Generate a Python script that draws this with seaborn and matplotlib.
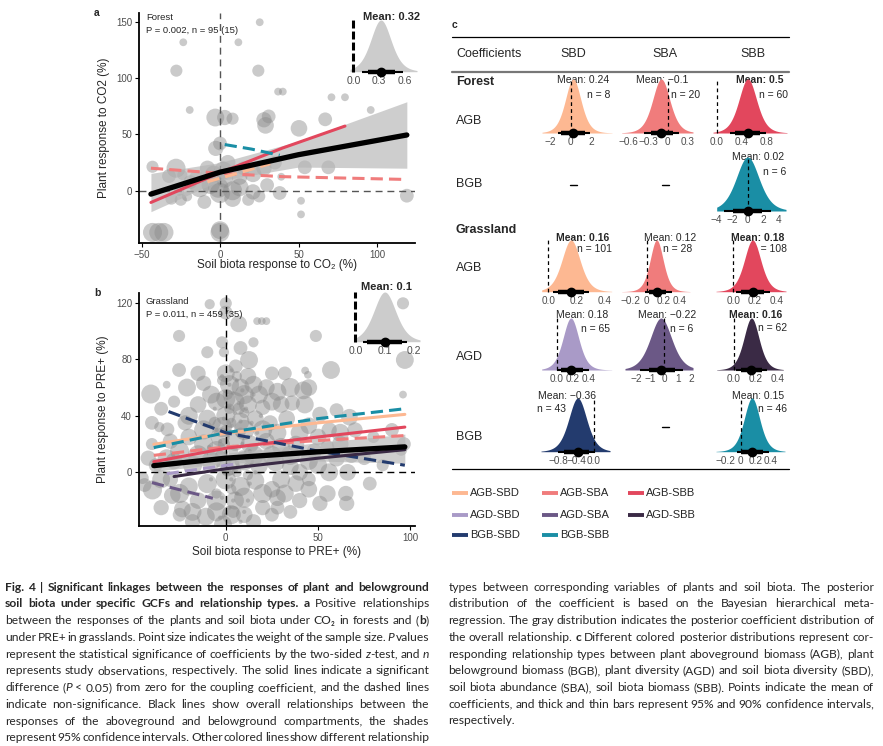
import re
import numpy as np
import matplotlib
matplotlib.use('Agg')
import matplotlib.pyplot as plt
import seaborn as sns

sns.set_style('white')
plt.rcParams['font.family'] = ['Liberation Sans', 'DejaVu Sans']
plt.rcParams['axes.unicode_minus'] = True

W, H = 883, 746

# relationship types and colours
rel_names = ['AGB-SBD', 'AGB-SBA', 'AGB-SBB', 'AGD-SBD', 'AGD-SBA', 'AGD-SBB', 'BGB-SBD', 'BGB-SBB']
rel_colors = ['#fdb892', '#f07c7c', '#e2475d', '#a99ac7', '#6b5886', '#3a2a45', '#233b6e', '#1a8ea5']
col = dict(zip(rel_names, rel_colors))

# ---------------- panel a: forest, CO2 ----------------
a_x = [25.3, -23.4, 11.7, -27.8, 24.4, -19.3, -3, 3, 8, 31, 29, 28, -2.7, 0, -43, -28, -32.5, -24,
       -19, -13, -1, 0, -6, 3, 8, 12.5, 21, 12.5, 21, 8, -21, -31, -26, -43, -39, -35.7, 0, 0,
       37, 40, 71, 79.6, 96, 67, 50.3, 54, 69, 39, 119, 51.6, 51.6, 35, 28, 15, -8, -15, 5, 18,
       25, -10, -4, 2, 30, -25, 38]
a_y = [149.6, 131.8, 131.8, 106.6, 106.6, 71.7, 65, 65, 64, 66, 58, 63, 37.6, 42, 21.3, 20, 13, 14,
       7.6, 2.7, 2.7, -2, 5, 10, 0, 12, 15, 3, -1, -7, -5, -7, 0, -37, -37, -37, -37, -35,
       88, 88, 83, 83, 71.7, 63.4, 55.4, 20.8, 20.8, 12.4, -4.4, -8.9, -21, 25, 20, 20, 20, 12, 25, -8,
       -5, -10, 15, 18, 5, -8, -2]
a_w = [2, 2, 2, 4, 4, 2, 8, 6, 4, 5, 7, 6, 6, 5, 4, 9, 5, 3,
       5, 9, 10, 10, 8, 7, 9, 6, 7, 8, 6, 7, 3, 4, 3, 9, 9, 9, 9, 8,
       2, 2, 2, 2, 2, 5, 7, 5, 5, 2, 5, 2, 2, 5, 6, 5, 6, 5, 6, 4,
       4, 5, 7, 8, 5, 4, 5]

a_fit_x = [-44, 0, 50, 119]
a_fit_y = [-3, 16.5, 32, 49.5]
a_ci_lo = [-18.6, 9, 21, 20]
a_ci_hi = [15.4, 25, 44, 79]
a_lines = {
    'AGB-SBB': ([-44, 0, 40, 79.6], [-10.4, 16, 38, 57.4], False),
    'AGB-SBA': ([-44, 0, 40, 119], [20, 15.5, 12.5, 10], True),
    'AGB-SBD': ([-8, 10, 32], [8, 15, 24], True),
    'BGB-SBB': ([3, 20, 38], [41, 37, 31.5], True),
}

# ---------------- panel b: grassland, PRE+ ----------------
b_pts = [
    (-8.7, 119, 3), (0, 119.6, 4), (0, 113, 5), (7, 105, 7), (17, 107, 2), (19.5, 107, 2), (22, 107, 2),
    (-25.3, 96.5, 4), (-2, 92, 4), (48.8, 96.5, 4), (-1, 85, 3), (-25.3, 72.4, 5), (12.6, 79.5, 8),
    (5.4, 75, 5), (57, 72.4, 8), (43, 72, 2), (44.5, 69, 2), (96, 119.6, 4), (97, 79.5, 8), (96, 55, 2),
    (-40.6, 55.4, 9), (-32, 62, 2), (-21, 60, 8), (-12, 63, 6), (2, 62, 9), (8, 60, 8), (15, 62, 8),
    (22, 60, 7), (28, 57, 8), (35, 60, 9), (42, 58, 8), (45, 60, 7), (-28, 50, 4), (-15, 48, 7),
    (-5, 50, 8), (5, 50, 9), (12, 48, 8), (20, 46, 6), (30, 48, 7), (36, 49, 6), (42.8, 48, 8),
    (51, 41, 6), (60, 44, 5), (67, 39, 7), (-31.6, 30.4, 5), (-36, 32, 3), (-22, 35, 6), (-10, 38, 8),
    (0, 40, 9), (8, 36, 8), (16, 38, 7), (24, 35, 6), (33, 38, 7), (45, 33, 7), (56, 30, 6), (62, 28, 8),
    (70, 30, 6), (68, 12, 6), (96.5, 20, 5), (95, 16, 4), (-40, 20, 4), (-30, 22, 6), (-20, 25, 7),
    (-12, 20, 9), (-3, 25, 9), (5, 22, 9), (13, 20, 8), (22, 22, 7), (30, 18, 8), (38, 20, 7), (48, 15, 6),
    (55, 18, 5), (-38, 5, 5), (-28, 8, 7), (-18, 5, 9), (-8, 8, 9), (2, 5, 10), (10, 8, 9), (18, 5, 8),
    (27, 7, 8), (35, 4, 7), (40, 0, 7), (50, 5, 8), (56, 0, 8), (66, 0, 7), (-39.7, -12.5, 9),
    (-29, -16.5, 7), (-23.5, -26, 7), (-30, -5, 6), (-20, -10, 8), (-10, -8, 9), (0, -5, 10), (8, -10, 9),
    (16, -6, 8), (25, -12, 7), (32, -15, 8), (55, -15, 7), (65, -15, 6), (-10.8, -31.4, 8), (-1.5, -37, 8),
    (10, -30, 7), (20, -25, 6), (-15, -20, 7), (5, -20, 8), (28, -25, 5), (51, -22, 6), (65.5, -22, 6),
    (45, -5, 5), (-45, -4, 4), (-44, -9, 5), (0, 30, 3), (2, 45, 3), (4, 15, 3), (6, 0, 3), (3, -12, 3),
    (1, 55, 3), (8, 28, 3), (-3, 12, 3), (-5, -15, 3), (10, 42, 3), (12, -2, 3), (-2, 65, 3), (6, 68, 3),
    (3, 35, 3), (9, 12, 3), (-1, 20, 4), (4, -28, 4), (1, 2, 5), (7, 45, 4), (-6, 35, 4),
    # bulk of the cloud
    (-35, -25, 6), (-25, -30, 5), (-18, -35, 6), (-5, -28, 9), (15, -35, 6), (25, -30, 5), (35, -28, 5),
    (40, -20, 6), (45, -12, 7), (30, -5, 8), (20, -15, 9), (10, -18, 10), (-5, -20, 10), (-25, -15, 9),
    (-35, -5, 8), (-32, 10, 8), (-25, 15, 9), (-15, 12, 10), (-5, 15, 10), (15, 12, 10), (25, 12, 9),
    (35, 12, 9), (45, 8, 8), (60, 10, 7), (62, 20, 7), (75, 10, 5), (80, 25, 4), (85, 5, 4), (90, 30, 5),
    (78, -8, 5), (-20, 40, 8), (-12, 30, 9), (-2, 32, 10), (10, 30, 10), (20, 30, 9), (28, 28, 8),
    (40, 28, 8), (50, 25, 7), (-8, 55, 8), (0, 52, 9), (10, 55, 9), (18, 55, 8), (25, 50, 8), (-15, 70, 6),
    (0, 70, 8), (12, 68, 7), (25, 70, 5), (32, 70, 5), (-35, 45, 5), (-40, 35, 5), (-42, 10, 6),
    (-10, 85, 4), (8, 88, 5), (15, 92, 3), (-18, -28, 8), (3, -30, 9), (28, -18, 7), (38, -8, 7),
    # fine speckle near zero
    (0, -30, 1), (2, -25, 1), (4, -20, 1), (-2, -18, 1), (6, -15, 1), (1, -10, 1), (3, -5, 1), (-1, 0, 1),
    (5, 3, 1), (2, 8, 1), (7, 10, 1), (0, 14, 1), (4, 18, 1), (9, 20, 1), (-3, 22, 1), (1, 26, 1),
    (6, 29, 1), (3, 33, 1), (8, 36, 1), (-1, 38, 1), (5, 42, 1), (2, 46, 1), (7, 49, 1), (0, 52, 1),
    (4, 56, 1), (9, 58, 1), (2, 62, 1), (6, 65, 1), (-2, 68, 1), (3, 72, 1), (11, 5, 1), (13, 15, 1),
    (12, 25, 1), (14, 35, 1), (11, 45, 1), (13, -8, 1), (12, -20, 1), (-4, 5, 1), (-5, 30, 1), (-6, 45, 1),
    (16, 0, 1), (18, 12, 1), (17, 28, 1), (19, 40, 1), (-8, -5, 1), (-9, 18, 1), (15, 55, 1), (10, -28, 1),
    (-3, -32, 1), (8, -35, 1),
]
b_x = [p[0] for p in b_pts]
b_y = [p[1] for p in b_pts]
b_w = [p[2] for p in b_pts]

b_fit_x = [-39, 0, 50, 97]
b_fit_y = [4.7, 10, 14.5, 18]
b_ci_lo = [0.5, 6.5, 8, 6.4]
b_ci_hi = [9.5, 13.5, 21, 27]
b_lines = {
    'AGB-SBD': ([-39, 0, 50, 97], [19.8, 27.6, 35, 41], False),
    'BGB-SBB': ([-39, 0, 50, 97], [17.5, 28, 38, 45], True),
    'AGB-SBA': ([-39, 0, 50, 97], [12, 18, 22.5, 26], True),
    'AGB-SBB': ([-39, 0, 50, 97], [7.5, 17, 25, 32], False),
    'BGB-SBD': ([-31, 0, 50, 97], [43, 28, 15, 5], True),
    'AGD-SBB': ([-28, 0, 50, 97], [-3, 2.5, 10, 16], False),
    'AGD-SBD': ([-32, 6], [-1, 6], True),
    'AGD-SBA': ([-40, -7], [-7.3, -18.4], True),
}

# overall posteriors (insets)
ins_mean = [0.32, 0.1]
ins_thick = [(0.17, 0.48), (0.04, 0.16)]
ins_thin = [(0.1, 0.58), (0.025, 0.177)]

# ---------------- panel c: posterior coefficients ----------------
post_rel = ['AGB-SBD', 'AGB-SBA', 'AGB-SBB', 'BGB-SBB', 'AGB-SBD', 'AGB-SBA', 'AGB-SBB',
            'AGD-SBD', 'AGD-SBA', 'AGD-SBB', 'BGB-SBD', 'BGB-SBB']
post_mean = [0.24, -0.1, 0.5, 0.02, 0.16, 0.12, 0.18, 0.18, -0.22, 0.16, -0.36, 0.15]
post_label = ['0.24', '\u22120.1', '0.5', '0.02', '0.16', '0.12', '0.18', '0.18', '\u22120.22', '0.16',
              '\u22120.36', '0.15']
post_n = [8, 20, 60, 6, 101, 28, 108, 65, 6, 62, 43, 46]
post_sig = [False, False, True, False, True, False, True, False, False, True, False, False]
post_thick = [(-0.9, 1.4), (-0.26, 0.08), (0.3, 0.7), (-1.9, 1.9), (0.07, 0.25), (0.03, 0.23),
              (0.07, 0.29), (0.06, 0.33), (-1.1, 0.8), (0.06, 0.26), (-0.66, -0.1), (0.0, 0.3)]
post_thin = [(-1.2, 1.9), (-0.36, 0.18), (0.22, 0.8), (-3.0, 3.0), (0.03, 0.29), (-0.02, 0.30),
             (0.03, 0.34), (0.0, 0.4), (-1.75, 1.4), (0.02, 0.3), (-0.79, 0.02), (-0.05, 0.37)]
post_ticks = [[-2, 0, 2], [-0.6, -0.3, 0, 0.3], [0, 0.4, 0.8], [-4, -2, 0, 2, 4], [0, 0.2, 0.4],
              [-0.2, 0, 0.2, 0.4], [0, 0.2, 0.4], [0, 0.2, 0.4], [-2, -1, 0, 1, 2], [0, 0.2, 0.4],
              [-0.8, -0.4, 0], [-0.2, 0, 0.2, 0.4]]
post_ticklabels = [['\u22122', '0', '2'], ['\u22120.6', '\u22120.3', '0', '0.3'], ['0.0', '0.4', '0.8'],
                   ['\u22124', '\u22122', '0', '2', '4'], ['0.0', '0.2', '0.4'],
                   ['\u22120.2', '0', '0.2', '0.4'], ['0.0', '0.2', '0.4'], ['0.0', '0.2', '0.4'],
                   ['\u22122', '\u22121', '0', '1', '2'], ['0.0', '0.2', '0.4'],
                   ['\u22120.8', '\u22120.4', '0.0'], ['\u22120.2', '0', '0.2', '0.4']]

# layout of the cells (pixels)
cell_box = [(542, 612), (621.7, 693), (713, 787), (716.7, 786), (541.7, 611.7), (621.7, 690),
            (716, 786), (541.7, 611.7), (625, 693), (716.7, 783.3), (541, 610), (716, 785)]
cell_base = [133, 133, 133, 211, 291.7, 291.7, 291.7, 370, 370, 370, 451.7, 451.7]
cell_peak = [79, 79, 79, 157, 240, 240, 240, 318, 318, 318, 398, 398]
cell_xlim = [(-2.8, 4.03), (-0.71, 0.39), (-0.06, 1.13), (-4.0, 5.0), (-0.047, 0.447), (-0.3, 0.52),
             (-0.16, 0.49), (-0.185, 0.69), (-2.84, 2.11), (-0.157, 0.45), (-1.18, 0.36), (-0.33, 0.59)]
cell_mean_xy = [(583, 80), (662, 80), (760, 80), (758, 157), (583, 238), (670, 238), (758, 238),
                (581.7, 315), (666.7, 315), (756, 315), (566.7, 396), (758, 396)]
cell_n_xy = [(610, 95, 'right'), (700, 95, 'right'), (788, 95, 'right'), (786, 172, 'right'),
             (611.7, 249, 'right'), (692, 249, 'right'), (787, 249, 'right'), (610, 329, 'right'),
             (693, 329, 'right'), (787, 328, 'right'), (536.7, 409, 'left'), (786.7, 409, 'right')]

caption_left = [
    "**Fig. 4 | Significant linkages between the responses of plant and belowground**",
    "**soil biota under specific GCFs and relationship types. a** Positive relationships",
    "between the responses of the plants and soil biota under CO\u2082 in forests and (**b**)",
    "under PRE+ in grasslands. Point size indicates the weight of the sample size. _P_ values",
    "represent the statistical significance of coefficients by the two-sided _z_-test, and _n_",
    "represents study observations, respectively. The solid lines indicate a significant",
    "difference (_P_ < 0.05) from zero for the coupling coefficient, and the dashed lines",
    "indicate non-significance. Black lines show overall relationships between the",
    "responses of the aboveground and belowground compartments, the shades",
    "represent 95% confidence intervals. Other colored lines show different relationship",
]
caption_right = [
    "types between corresponding variables of plants and soil biota. The posterior",
    "distribution of the coefficient is based on the Bayesian hierarchical meta-",
    "regression. The gray distribution indicates the posterior coefficient distribution of",
    "the overall relationship. **c** Different colored posterior distributions represent cor-",
    "responding relationship types between plant aboveground biomass (AGB), plant",
    "belowground biomass (BGB), plant diversity (AGD) and soil biota diversity (SBD),",
    "soil biota abundance (SBA), soil biota biomass (SBB). Points indicate the mean of",
    "coefficients, and thick and thin bars represent 95% and 90% confidence intervals,",
    "respectively.",
]

TICK_GRAY = '#4d4d4d'

fig = plt.figure(figsize=(W / 100, H / 100), dpi=100)


def px_axes(l, t, r, b):
    ax = fig.add_axes([l / W, 1 - b / H, (r - l) / W, (b - t) / H])
    ax.set_facecolor('none')
    return ax


ov = px_axes(0, 0, W, H)
ov.set_xlim(0, W)
ov.set_ylim(H, 0)
ov.axis('off')


def scatter_panel(ax, xs, ys, ws, fit_x, fit_y, lo, hi, lines, zero_color):
    sns.scatterplot(x=xs, y=ys, size=ws, sizes=(9, 210), size_norm=(1, 10), color='#8a8a8a',
                    alpha=0.45, linewidth=0, legend=False, ax=ax)
    ax.axhline(0, color=zero_color, lw=1.0, ls=(0, (5, 3.5)), zorder=2)
    ax.axvline(0, color=zero_color, lw=1.0, ls=(0, (5, 3.5)), zorder=2)
    ax.fill_between(fit_x, lo, hi, color='#b5b5b5', alpha=0.65, lw=0, zorder=3)
    for rel, (lx, ly, dashed) in lines.items():
        sns.lineplot(x=lx, y=ly, color=col[rel], linewidth=2.2, estimator=None, sort=False,
                     linestyle=(0, (4, 2)) if dashed else '-', ax=ax, legend=False, zorder=4)
    sns.lineplot(x=fit_x, y=fit_y, color='black', linewidth=3.8, estimator=None, sort=False,
                 ax=ax, legend=False, zorder=5)
    for s in ['top', 'right']:
        ax.spines[s].set_visible(False)
    for s in ['left', 'bottom']:
        ax.spines[s].set_linewidth(1.3)
        ax.spines[s].set_color('black')
    ax.tick_params(axis='both', length=3, width=0.8, color='black', labelsize=7, labelcolor=TICK_GRAY,
                   pad=2, direction='out', bottom=True, left=True)


def posterior(ax, mean, thick, thin, xlim, color, zero_lw, zero_ls):
    grid = np.linspace(xlim[0], xlim[1], 400)
    s = (thin[1] - thin[0]) / (2 * 1.943)
    dens = (1 + ((grid - mean) / s) ** 2 / 6) ** (-3.5)
    ax.fill_between(grid, 0, dens, color=color, lw=0, zorder=1)
    ax.plot([0, 0], [0, 1], color='black', lw=zero_lw, ls=zero_ls, zorder=2, clip_on=False)
    ax.plot(thin, [0, 0], color='black', lw=1.5, solid_capstyle='butt', zorder=3, clip_on=False)
    ax.plot(thick, [0, 0], color='black', lw=3.2, solid_capstyle='butt', zorder=3, clip_on=False)
    ax.plot([mean], [0], 'o', color='black', ms=6, zorder=4, clip_on=False)
    ax.set_xlim(xlim)
    ax.set_ylim(0, 1.0)
    ax.set_yticks([])
    for s_ in ax.spines.values():
        s_.set_visible(False)
    ax.tick_params(axis='x', length=0, pad=3, labelsize=7.2, labelcolor=TICK_GRAY)


# ---- panel a ----
ax_a = px_axes(139, 13, 415, 243)
scatter_panel(ax_a, a_x, a_y, a_w, a_fit_x, a_fit_y, a_ci_lo, a_ci_hi, a_lines, '#555555')
ax_a.set_xlim(-51.6, 124.2)
ax_a.set_ylim(-46.4, 157.8)
ax_a.set_xticks([-50, 0, 50, 100])
ax_a.set_yticks([0, 50, 100, 150])
ax_a.set_xlabel('Soil biota response to CO\u2082 (%)', fontsize=8.5)
ax_a.set_ylabel('Plant response to CO2 (%)', fontsize=8.5)
ax_a.xaxis.set_label_coords(0.5, -0.096)
ax_a.xaxis.label.set_va('center')
ax_a.yaxis.set_label_coords(-0.127, 0.5)
ax_a.yaxis.label.set_va('center')
ax_a.text(0.025, 0.982, 'Forest', transform=ax_a.transAxes, fontsize=6.8, va='center')
ax_a.text(0.025, 0.925, 'P = 0.002, n = 95 (15)', transform=ax_a.transAxes, fontsize=6.8, va='center')

ins_a = px_axes(350, 20, 417, 71.7)
posterior(ins_a, ins_mean[0], ins_thick[0], ins_thin[0], (-0.04, 0.74), '#cccccc', 2.2, (0, (2.6, 1.0)))
ins_a.set_xticks([0, 0.3, 0.6])
ins_a.set_xticklabels(['0.0', '0.3', '0.6'])
ins_a.tick_params(labelsize=7.5)

# ---- panel b ----
ax_b = px_axes(139, 293, 415, 526)
scatter_panel(ax_b, b_x, b_y, b_w, b_fit_x, b_fit_y, b_ci_lo, b_ci_hi, b_lines, 'black')
ax_b.set_xlim(-47, 102.5)
ax_b.set_ylim(-38, 126.9)
ax_b.set_xticks([0, 50, 100])
ax_b.set_yticks([0, 40, 80, 120])
ax_b.set_xlabel('Soil biota response to PRE+ (%)', fontsize=8.5)
ax_b.set_ylabel('Plant response to PRE+ (%)', fontsize=8.5)
ax_b.xaxis.set_label_coords(0.5, -0.11)
ax_b.xaxis.label.set_va('center')
ax_b.yaxis.set_label_coords(-0.13, 0.5)
ax_b.yaxis.label.set_va('center')
ax_b.text(0.025, 0.962, 'Grassland', transform=ax_b.transAxes, fontsize=6.8, va='center')
ax_b.text(0.025, 0.906, 'P = 0.011, n = 459 (35)', transform=ax_b.transAxes, fontsize=6.8, va='center')

ins_b = px_axes(354, 292, 420, 341.7)
posterior(ins_b, ins_mean[1], ins_thick[1], ins_thin[1], (-0.005, 0.22), '#cccccc', 2.2, (0, (2.6, 1.0)))
ins_b.set_xticks([0, 0.1, 0.2])
ins_b.set_xticklabels(['0.0', '0.1', '0.2'])
ins_b.tick_params(labelsize=7.5)

ov.text(391.7, 16.7, 'Mean: 0.32', fontsize=8, fontweight='bold', ha='center', va='center')
ov.text(386.7, 287.5, 'Mean: 0.1', fontsize=8, fontweight='bold', ha='center', va='center')
ov.text(97, 13, 'a', fontsize=7.5, fontweight='bold', ha='center', va='center')
ov.text(97, 293, 'b', fontsize=7.5, fontweight='bold', ha='center', va='center')
ov.text(455, 25, 'c', fontsize=7.5, fontweight='bold', ha='center', va='center')

# ---- panel c table ----
ov.plot([451.7, 789], [37.3, 37.3], color='black', lw=0.9)
ov.plot([451.7, 789], [71.7, 71.7], color='#777777', lw=1.6)
ov.plot([451.7, 789], [469, 469], color='black', lw=0.9)
ov.text(456, 54.3, 'Coefficients', fontsize=9, va='center')
for name, xc in zip(['SBD', 'SBA', 'SBB'], [573.3, 665, 752.7]):
    ov.text(xc, 54.3, name, fontsize=9, ha='center', va='center')
for lab, yc, bold in [('Forest', 81.7, True), ('AGB', 121, False), ('BGB', 184.3, False),
                      ('Grassland', 230, True), ('AGB', 268.3, False), ('AGD', 356.7, False),
                      ('BGB', 436.7, False)]:
    ov.text(456, yc, lab, fontsize=9, va='center', fontweight='bold' if bold else 'normal')
for xc, yc in [(573, 185), (665, 185), (665, 426.7)]:
    ov.plot([xc - 3.5, xc + 3.5], [yc, yc], color='black', lw=1.0)

for i in range(len(post_rel)):
    l, r = cell_box[i]
    ax = px_axes(l, cell_peak[i], r, cell_base[i])
    posterior(ax, post_mean[i], post_thick[i], post_thin[i], cell_xlim[i], col[post_rel[i]],
              0.9, (0, (3, 2.5)))
    ax.set_xticks(post_ticks[i])
    ax.set_xticklabels(post_ticklabels[i])
    mx, my = cell_mean_xy[i]
    ov.text(mx, my, 'Mean: ' + post_label[i], fontsize=7.5, ha='center', va='center',
            fontweight='bold' if post_sig[i] else 'normal', zorder=5)
    nx, ny, nha = cell_n_xy[i]
    ov.text(nx, ny, 'n = %d' % post_n[i], fontsize=7.5, ha=nha, va='center', zorder=5)

# legend of relationship types
leg_order = ['AGB-SBD', 'AGB-SBA', 'AGB-SBB', 'AGD-SBD', 'AGD-SBA', 'AGD-SBB', 'BGB-SBD', 'BGB-SBB']
leg_cols = [451.7, 541.7, 628]
leg_rows = [492.7, 514.5, 535]
for k, rel in enumerate(leg_order):
    x0 = leg_cols[k % 3]
    y0 = leg_rows[k // 3]
    ov.plot([x0, x0 + 16], [y0, y0], color=col[rel], lw=2.8, solid_capstyle='butt')
    ov.text(x0 + 18, y0, rel, fontsize=8, va='center')

# ---- caption (justified, mixed styles) ----
renderer = fig.canvas.get_renderer()
CAP_FONT = ['Lato', 'DejaVu Sans']
MIN_GAP = 0.3   # tightest word gap, as a share of a normal space


def parse(line):
    words = [[]]
    for seg in re.split(r'(\*\*.+?\*\*|_.+?_)', line):
        if not seg:
            continue
        if seg.startswith('**'):
            st, seg = 'b', seg[2:-2]
        elif seg.startswith('_') and seg.endswith('_') and len(seg) > 2:
            st, seg = 'i', seg[1:-1]
        else:
            st = 'n'
        parts = seg.split(' ')
        for k, p in enumerate(parts):
            if k > 0:
                words.append([])
            if p:
                words[-1].append((p, st))
    return [w for w in words if w]


def make_run(txt, st, size):
    return ov.text(0, 0, txt, fontsize=size, family=CAP_FONT, va='baseline',
                   fontweight='bold' if st == 'b' else 'normal',
                   fontstyle='italic' if st == 'i' else 'normal')


def fit_scale(lines, size, target):
    sp = make_run('a a', 'n', size)
    nosp = make_run('aa', 'n', size)
    space = sp.get_window_extent(renderer).width - nosp.get_window_extent(renderer).width
    sp.remove()
    nosp.remove()
    scale = 10.0
    for line in lines:
        words = parse(line)
        total = 0
        for w in words:
            for txt, st in w:
                t = make_run(txt, st, size)
                total += t.get_window_extent(renderer).width
                t.remove()
        total += MIN_GAP * space * (len(words) - 1)
        scale = min(scale, target / total)
    return scale


def draw_caption(lines, x_left, x_right, y0, dy, size, justify_last):
    target = x_right - x_left
    for li, line in enumerate(lines):
        words = parse(line)
        runs = []
        widths = []
        for w in words:
            wr = []
            ww = 0
            for txt, st in w:
                t = make_run(txt, st, size)
                bw = t.get_window_extent(renderer).width
                wr.append((t, bw))
                ww += bw
            runs.append(wr)
            widths.append(ww)
        last = (li == len(lines) - 1) and not justify_last
        if last or len(words) < 2:
            gap = size * 0.32
        else:
            gap = (target - sum(widths)) / (len(words) - 1)
        x = x_left
        y = y0 + li * dy
        for wr, ww in zip(runs, widths):
            xx = x
            for t, bw in wr:
                t.set_position((xx, y))
                xx += bw
            x += ww + gap


base = 9.0
scale = min(fit_scale(caption_left, base, 424.0), fit_scale(caption_right, base, 425.7))
cap_size = base * scale * 0.995
draw_caption(caption_left, 5, 429, 590.7, 16.75, cap_size, True)
draw_caption(caption_right, 448.3, 874, 590.7, 16.7, cap_size, False)

fig.savefig('out.png', dpi=100, facecolor='white')
